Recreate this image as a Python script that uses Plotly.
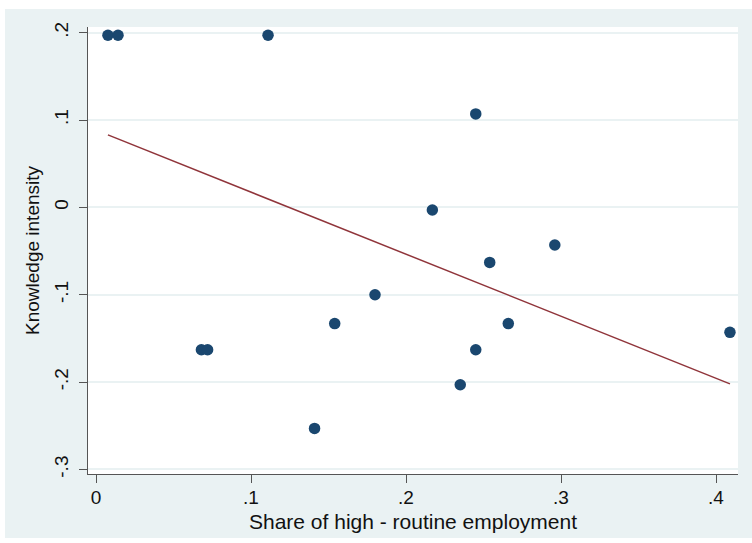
import plotly.graph_objects as go

# Data
share_high_routine = [0.0077, 0.0142, 0.111, 0.245, 0.217, 0.296, 0.254, 0.180,
                      0.154, 0.266, 0.068, 0.072, 0.245, 0.235, 0.141, 0.409]
knowledge_intensity = [0.197, 0.197, 0.197, 0.107, -0.003, -0.043, -0.063, -0.100,
                       -0.133, -0.133, -0.163, -0.163, -0.163, -0.203, -0.253, -0.143]
# Fitted line end points as drawn in the reference
fit_x = [0.0077, 0.409]
fit_y = [0.083, -0.202]

x_ticks = [0, 0.1, 0.2, 0.3, 0.4]
x_tick_labels = ["0", ".1", ".2", ".3", ".4"]
y_ticks = [-0.3, -0.2, -0.1, 0, 0.1, 0.2]
y_tick_labels = ["-.3", "-.2", "-.1", "0", ".1", ".2"]

W, H = 752, 543
L, R, T, B = 88, 14, 27, 69
pw, ph = W - L - R, H - T - B

def px(x):
    return (x - L) / pw

def py(y):
    return (H - B - y) / ph

BG = "#EAF2F3"
FONT = "Liberation Sans, Arial, sans-serif"
TXT = "#111111"

fig = go.Figure()
fig.add_trace(go.Scatter(
    x=share_high_routine, y=knowledge_intensity, mode="markers",
    marker=dict(color="#1A476F", size=11.5, line=dict(width=0)),
    showlegend=False, cliponaxis=False))
fig.add_trace(go.Scatter(
    x=fit_x, y=fit_y, mode="lines",
    line=dict(color="#90353B", width=1.5), showlegend=False))

shapes = [
    dict(type="rect", xref="paper", yref="paper", x0=px(0), x1=px(5), y0=py(H), y1=py(0),
         fillcolor="white", line=dict(width=0), layer="above"),
    dict(type="rect", xref="paper", yref="paper", x0=px(0), x1=px(W), y0=py(9), y1=py(0),
         fillcolor="white", line=dict(width=0), layer="above"),
    dict(type="rect", xref="paper", yref="paper", x0=px(0), x1=px(W), y0=py(H), y1=py(538),
         fillcolor="white", line=dict(width=0), layer="above"),
]

fig.update_layout(
    width=W, height=H,
    margin=dict(l=L, r=R, t=T, b=B, pad=0),
    paper_bgcolor=BG, plot_bgcolor="white",
    font=dict(family=FONT, size=19, color=TXT),
    shapes=shapes,
    xaxis=dict(
        range=[-0.00516, 0.41419], tickvals=x_ticks, ticktext=x_tick_labels,
        automargin=False,
        showgrid=False, zeroline=False, showline=True, linecolor="#555555", linewidth=1,
        ticks="outside", ticklen=8, tickcolor="#555555", ticklabelstandoff=-2,
        tickfont=dict(size=19, color=TXT),
        title=dict(text="Share of high - routine employment", font=dict(size=21, color=TXT),
                   standoff=7),
    ),
    yaxis=dict(
        range=[-0.3052, 0.2065], tickvals=y_ticks, ticktext=y_tick_labels,
        automargin=False,
        showgrid=True, gridcolor=BG, gridwidth=1.5, zeroline=False,
        showline=True, linecolor="#555555", linewidth=1,
        ticks="outside", ticklen=8, tickcolor="#555555", tickangle=-90,
        ticklabelstandoff=3,
        tickfont=dict(size=19, color=TXT),
        title=dict(text="Knowledge intensity", font=dict(size=19, color=TXT),
                   standoff=6),
    ),
)

fig.write_html("out.html", config={"displayModeBar": False},
               post_script="document.body.style.margin='0px';")
